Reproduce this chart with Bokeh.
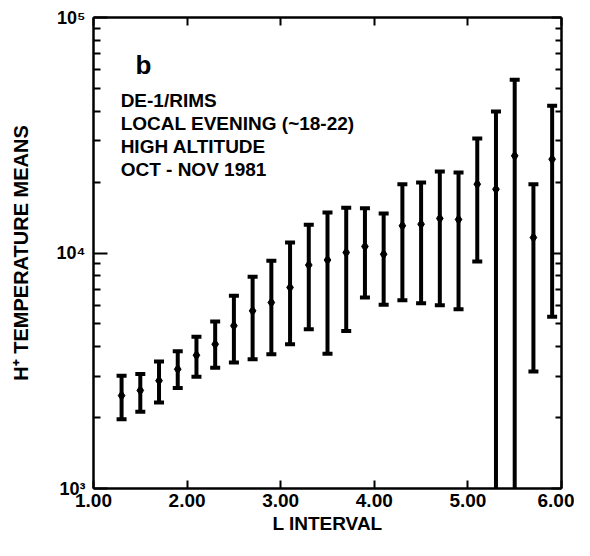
from bokeh.plotting import figure
from bokeh.models import (Range1d, LinearAxis, LogAxis, FixedTicker, Label,
                          CustomJSTickFormatter, PrintfTickFormatter, ColumnDataSource)
from bokeh.embed import file_html
from bokeh.resources import INLINE

# ---- data ----
l_interval = [1.3, 1.5, 1.7, 1.9, 2.1, 2.3, 2.5, 2.7, 2.9, 3.1, 3.3, 3.5,
              3.7, 3.9, 4.1, 4.3, 4.5, 4.7, 4.9, 5.1, 5.3, 5.5, 5.7, 5.9]
temp_mean = [2480, 2610, 2870, 3210, 3680, 4100, 4910, 5680, 6160, 7140, 8890, 9340,
             10050, 10660, 9880, 13050, 13260, 14020, 13880, 19600, 18660, 25860, 11630, 25020]
temp_upper = [3010, 3060, 3460, 3830, 4410, 5120, 6580, 7920, 9270, 11080, 13170, 14860,
              15550, 15500, 14710, 19600, 19930, 22190, 21970, 30640, 39890, 54380, 19600, 42190]
temp_lower = [1970, 2120, 2320, 2670, 2980, 3260, 3430, 3540, 3720, 4100, 4750, 3730,
              4670, 6470, 6030, 6300, 6120, 6000, 5770, 9200, 500, 500, 3140, 5360]

x_ticks = [1, 2, 3, 4, 5, 6]
y_major = [1e3, 1e4, 1e5]
y_minor = [2e3, 3e3, 4e3, 5e3, 6e3, 7e3, 8e3, 9e3,
           2e4, 3e4, 4e4, 5e4, 6e4, 7e4, 8e4, 9e4]
y_tick_labels = {1000: "10\u00b3", 10000: "10\u2074", 100000: "10\u2075"}

x_title = "L INTERVAL"
y_title = "H\u207a TEMPERATURE MEANS"
info_lines = ["DE-1/RIMS", "LOCAL EVENING (~18-22)", "HIGH ALTITUDE", "OCT - NOV 1981"]

FONT = "Liberation Sans"

src = ColumnDataSource(dict(x=l_interval, mean=temp_mean, up=temp_upper, lo=temp_lower))

p = figure(width=574, height=540, output_backend="svg", toolbar_location=None,
           x_range=Range1d(1, 6), y_range=Range1d(1e3, 1e5), y_axis_type="log",
           min_border_left=93, min_border_right=13, min_border_top=17, min_border_bottom=52)
p.grid.visible = False
p.outline_line_color = None
p.background_fill_color = "white"
p.border_fill_color = "white"

# error bars
p.segment(x0="x", y0="lo", x1="x", y1="up", source=src, line_color="black", line_width=4)
p.scatter(x="x", y="up", source=src, marker="dash", size=10, line_color="black", line_width=4)
p.scatter(x="x", y="lo", source=src, marker="dash", size=10, line_color="black", line_width=4)
p.scatter(x="x", y="mean", source=src, marker="diamond", size=10, fill_color="black", line_color="black")

# bottom axis
xa = p.xaxis[0]
xa.ticker = FixedTicker(ticks=x_ticks)
xa.formatter = PrintfTickFormatter(format="%.2f")
xa.axis_label = x_title
# left axis
ya = p.yaxis[0]
ya.ticker = FixedTicker(ticks=y_major, minor_ticks=y_minor)
ya.major_label_overrides = y_tick_labels
ya.axis_label = y_title

for ax in (xa, ya):
    ax.axis_line_width = 2.5
    ax.major_tick_out = 0
    ax.minor_tick_out = 0
    ax.major_tick_line_width = 2
    ax.minor_tick_line_width = 2
    ax.major_label_text_font = FONT
    ax.major_label_text_font_style = "bold"
    ax.major_label_text_font_size = "19px"
    ax.major_label_text_color = "black"
    ax.axis_label_text_font = FONT
    ax.axis_label_text_font_style = "bold"
    ax.axis_label_text_font_size = "19px"
    ax.axis_label_text_color = "black"

ya.major_label_text_font_size = "18px"
ya.axis_label_text_font_size = "20px"
xa.major_tick_in = 8
xa.minor_tick_line_color = None
xa.major_label_standoff = 5
xa.axis_label_standoff = 3
ya.major_tick_in = 14
ya.minor_tick_in = 7
ya.major_label_standoff = 8
ya.axis_label_standoff = 22

blank = CustomJSTickFormatter(code="return ''")
top = LinearAxis(ticker=FixedTicker(ticks=x_ticks), formatter=blank)
right = LogAxis(ticker=FixedTicker(ticks=y_major, minor_ticks=y_minor), formatter=blank)
for ax in (top, right):
    ax.axis_line_width = 2.5
    ax.major_tick_out = 0
    ax.minor_tick_out = 0
    ax.major_tick_line_width = 2
    ax.minor_tick_line_width = 2
    ax.major_label_standoff = 0
    ax.major_label_text_font_size = "1px"
top.major_tick_in = 8
top.minor_tick_line_color = None
right.major_tick_in = 10
right.minor_tick_in = 6
p.add_layout(top, "above")
p.add_layout(right, "right")

# annotations
p.add_layout(Label(x=1.45, y=63150, text="b", text_font=FONT, text_font_style="bold",
                   text_font_size="26px", text_baseline="alphabetic", text_color="black"))
info_y = [44420, 35470, 28330, 22620]
for t, yy in zip(info_lines, info_y):
    p.add_layout(Label(x=1.29, y=yy, text=t, text_font=FONT, text_font_style="bold",
                       text_font_size="19px", text_baseline="alphabetic", text_color="black"))

open("out.html", "w").write(file_html(p, INLINE))
